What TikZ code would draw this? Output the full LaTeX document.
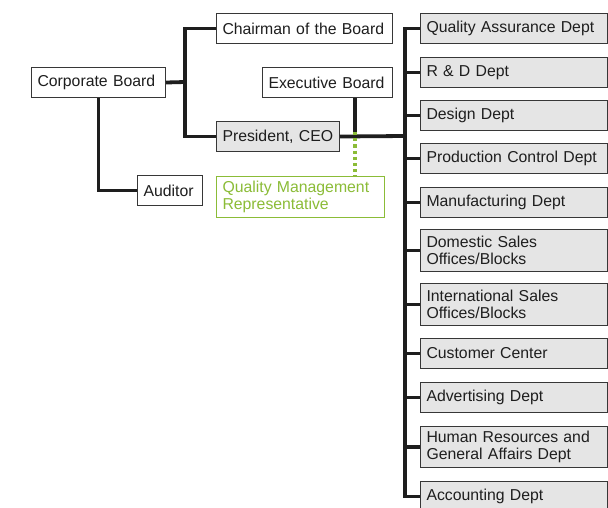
\documentclass[tikz,border=0pt]{standalone}
\usepackage{fontspec}
\setmainfont{Liberation Sans}
\definecolor{qmgreen}{RGB}{139,188,55}
\definecolor{boxline}{RGB}{55,55,55}
\definecolor{boxfill}{RGB}{229,229,229}
\definecolor{txt}{RGB}{30,30,30}
\begin{document}
\begin{tikzpicture}[x=1pt,y=-1pt,
  box/.style={draw=boxline,line width=1pt,fill=white,anchor=north west,
    inner xsep=6pt,inner ysep=0pt,align=left,text=txt,
    font=\fontsize{15.8}{17}\selectfont},
  greybox/.style={box,fill=boxfill},
  qmbox/.style={box,draw=qmgreen,text=qmgreen},
  conn/.style={line width=3.8pt,draw=txt,line join=miter,line cap=butt},
  qmconn/.style={line width=3.2pt,draw=qmgreen,dash pattern=on 3.2pt off 3pt}]
\clip (0,0) rectangle (608,507);
\fill[white] (0,0) rectangle (608,507);
% left part
\node[box,minimum width=134pt,minimum height=30pt,text width=122pt] (corp) at (31,67) {Corporate Board};
\node[box,minimum width=176pt,minimum height=30pt,text width=164pt] (chair) at (216,13) {Chairman of the Board};
\node[box,minimum width=130pt,minimum height=30pt,text width=118pt] (exec) at (262,67) {Executive Board};
\node[greybox,minimum width=123pt,minimum height=30pt,text width=111pt] (pres) at (216,121) {President, CEO};
\node[box,minimum width=65pt,minimum height=30pt,text width=53pt] (aud) at (137,175) {Auditor};
\node[qmbox,minimum width=168pt,minimum height=41pt,text width=156pt] (qmr) at (216,176) {Quality Management\\Representative};
% departments
\tikzset{dept/.style={greybox,minimum width=187pt,text width=175pt,minimum height=#1}}
\node[dept=30pt] (d1) at (420,13) {Quality Assurance Dept};
\node[dept=30pt] (d2) at (420,57) {R \& D Dept};
\node[dept=30pt] (d3) at (420,100) {Design Dept};
\node[dept=30pt] (d4) at (420,143) {Production Control Dept};
\node[dept=30pt] (d5) at (420,187) {Manufacturing Dept};
\node[dept=42pt] (d6) at (420,229) {Domestic Sales\\Offices/Blocks};
\node[dept=42pt] (d7) at (420,283) {International Sales\\Offices/Blocks};
\node[dept=30pt] (d8) at (420,338) {Customer Center};
\node[dept=30pt] (d9) at (420,382) {Advertising Dept};
\node[dept=41pt] (d10) at (420,426) {Human Resources and\\General Affairs Dept};
\node[dept=30pt] (d11) at (420,481) {Accounting Dept};
% coordinates
\coordinate (jA) at (185,82);
\coordinate (jB) at (355,136);
\coordinate (sp) at (405,136);
% connectors
\draw[conn] (corp.east) -- (jA);
\draw[conn] (chair.west) -| (jA) |- (pres.west);
\draw[conn] (corp.south) |- (aud.west);
\draw[conn] (jB |- exec.south) -- (jB);
\draw[conn] (pres.east) -- (sp);
\draw[conn] (d1.west) -| (d11.west -| sp) -- (d11.west);
\foreach \i in {2,...,10} {\draw[conn] (d\i.west -| sp) -- (d\i.west);}
\draw[qmconn] ([yshift=4pt]jB) -- (jB |- qmr.north);
\end{tikzpicture}
\end{document}
